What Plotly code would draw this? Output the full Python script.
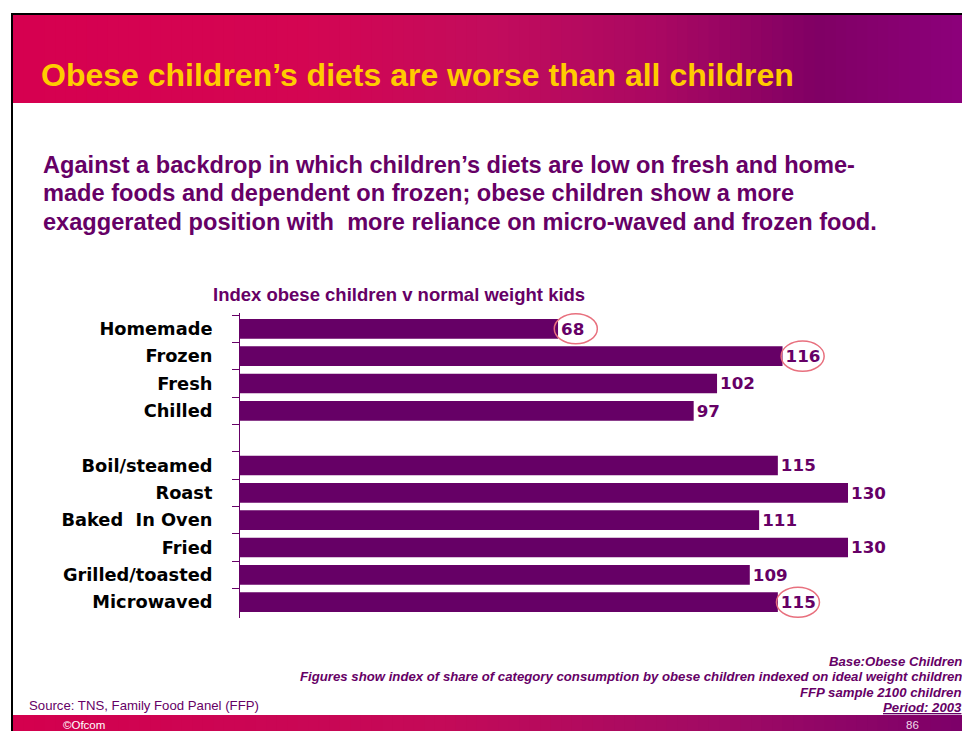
import plotly.graph_objects as go

# ---------------- data ----------------
categories = ["Homemade", "Frozen", "Fresh", "Chilled", " ",
              "Boil/steamed", "Roast", "Baked  In Oven", "Fried",
              "Grilled/toasted", "Microwaved"]
index_values = [68, 116, 102, 97, None, 115, 130, 111, 130, 109, 115]
highlighted = ["Homemade", "Frozen", "Microwaved"]

title_text = "Obese children\u2019s diets are worse than all children"
subtitle_lines = [
    "Against a backdrop in which children\u2019s diets are low on fresh and home-",
    "made foods and dependent on frozen; obese children show a more",
    "exaggerated position with  more reliance on micro-waved and frozen food.",
]
chart_title = "Index obese children v normal weight kids"
note_lines = [
    "Base:Obese Children",
    "Figures show index of share of category consumption by obese children indexed on ideal weight children",
    "FFP sample 2100 children",
    "<u>Period: 2003</u>",
]
source_text = "Source: TNS, Family Food Panel (FFP)"

# ---------------- layout helpers ----------------
W, H = 962, 731
PURPLE = "#660066"


def px(x):
    return x / W


def py(y):
    return 1 - y / H


X_MAX = 141
x_left, x_px_per_unit = 240, 4.677
x_right = x_left + X_MAX * x_px_per_unit

fig = go.Figure()

fig.add_trace(go.Bar(
    x=index_values,
    y=categories,
    orientation="h",
    marker=dict(color=PURPLE, line=dict(width=0)),
    text=[("" if v is None else str(v)) for v in index_values],
    textposition="outside",
    textfont=dict(family="DejaVu Sans", size=17, color=PURPLE, weight="bold"),
    cliponaxis=False,
    hoverinfo="skip",
))

shapes = []


def lerp(c1, c2, t):
    return tuple(int(round(a + (b - a) * t)) for a, b in zip(c1, c2))


def gradient_color(stops, t):
    for (t0, c0), (t1, c1) in zip(stops[:-1], stops[1:]):
        if t0 <= t <= t1:
            return lerp(c0, c1, (t - t0) / (t1 - t0) if t1 > t0 else 0)
    return stops[-1][1]


header_stops = [(0.0, (214, 0, 80)), (0.3, (212, 5, 82)), (0.5, (195, 12, 92)),
                (0.68, (170, 8, 98)), (0.85, (128, 0, 100)), (1.0, (140, 0, 122))]
footer_stops = [(0.0, (212, 0, 78)), (0.45, (196, 10, 88)), (0.75, (160, 10, 100)),
                (1.0, (125, 0, 105))]

n_strips = 90
for (y0, y1), stops in (((15, 103), header_stops), ((715, 731), footer_stops)):
    x_start = 13
    step = (W - x_start) / n_strips
    for i in range(n_strips):
        c = gradient_color(stops, i / (n_strips - 1))
        shapes.append(dict(type="rect", xref="paper", yref="paper",
                           x0=px(x_start + i * step), x1=px(x_start + (i + 1) * step + 1),
                           y0=py(y1), y1=py(y0), line=dict(width=0),
                           fillcolor="rgb(%d,%d,%d)" % c, layer="below"))

# black frame
shapes.append(dict(type="rect", xref="paper", yref="paper", x0=px(11), x1=px(W),
                   y0=py(15), y1=py(13), line=dict(width=0), fillcolor="black"))
shapes.append(dict(type="rect", xref="paper", yref="paper", x0=px(11), x1=px(13),
                   y0=py(H), y1=py(13), line=dict(width=0), fillcolor="black"))

# highlight ellipses around selected value labels
for cat, val in zip(categories, index_values):
    if cat in highlighted and val is not None:
        i = categories.index(cat)
        cx = val + (3.8 if val < 100 else 4.3)
        shapes.append(dict(type="circle", xref="x", yref="y",
                           x0=cx - 4.6, x1=cx + 4.6, y0=i - 0.55, y1=i + 0.55,
                           line=dict(color="#E8707E", width=1.5), layer="above"))

annotations = []


def add_text(text, x, y, size, color, xanchor="left", family="Liberation Sans"):
    annotations.append(dict(text=text, x=px(x), y=py(y), xref="paper", yref="paper",
                            xanchor=xanchor, yanchor="middle", showarrow=False,
                            font=dict(family=family, size=size, color=color)))


add_text("<b>" + title_text + "</b>", 39, 75, 32, "#FFCC00")
for k, line in enumerate(subtitle_lines):
    add_text("<b>" + line + "</b>", 41, 165 + 28.5 * k, 23.6, PURPLE)
add_text("<b>" + chart_title + "</b>", 211, 294, 18.5, PURPLE)
for k, line in enumerate(note_lines):
    add_text("<b><i>" + line + "</i></b>", 964, 661 + 15.6 * k, 13.2, PURPLE, xanchor="right")
add_text(source_text, 27, 705, 13.2, PURPLE)
add_text("\u00a9Ofcom", 61, 724.5, 11.5, "white")
add_text("86", 912, 724.5, 11.5, "#f0d8e8", xanchor="center")

fig.update_layout(
    width=W, height=H, autosize=False,
    margin=dict(l=0, r=0, t=0, b=0),
    paper_bgcolor="white", plot_bgcolor="white",
    showlegend=False,
    bargap=0.28,
    shapes=shapes,
    annotations=annotations,
    xaxis=dict(domain=[px(x_left), px(x_right)], range=[0, X_MAX],
               visible=False, fixedrange=True),
    yaxis=dict(domain=[py(618), py(313)], type="category",
               categoryorder="array", categoryarray=categories,
               autorange="reversed",
               showline=True, linecolor=PURPLE, linewidth=1,
               ticks="outside", tickson="boundaries", ticklen=7, tickcolor=PURPLE,
               ticklabelstandoff=23,
               showgrid=False, zeroline=False,
               tickfont=dict(family="DejaVu Sans", size=17.8, color="black", weight="bold"),
               fixedrange=True),
)

fig.write_html("out.html", config={"displayModeBar": False},
               post_script="document.body.style.margin='0';")
